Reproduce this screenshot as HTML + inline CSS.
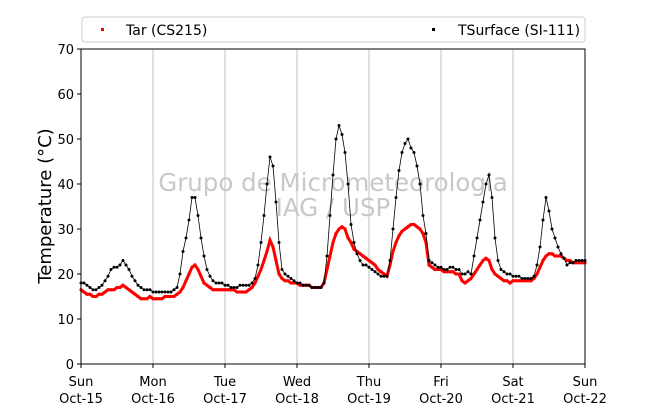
<!DOCTYPE html>
<html><head><meta charset="utf-8"><style>
body{margin:0;background:#fff;width:650px;height:409px;overflow:hidden}
svg text{font-family:"DejaVu Sans","Liberation Sans",sans-serif}
</style></head><body>
<svg id="chart" width="650" height="409" xmlns="http://www.w3.org/2000/svg">
<g id="grid"></g>
<text x="333" y="191" font-size="24.5" fill="#c8c8c8" text-anchor="middle">Grupo de Micrometeorologia</text>
<text x="333" y="216" font-size="24.5" fill="#c8c8c8" text-anchor="middle">IAG / USP</text>
<g id="series"></g>
<rect x="81" y="49" width="504" height="315" fill="none" stroke="#000" stroke-width="1"/>
<g id="axes"></g>
<text transform="translate(51,206) rotate(-90)" font-size="18" text-anchor="middle">Temperature (°C)</text>
<g>
<rect x="82" y="17" width="503" height="25" rx="3" fill="#fff" stroke="#ccc"/>
<g><rect x="101" y="28" width="3" height="3" fill="#f00"/><text x="126" y="35" font-size="14">Tar (CS215)</text></g>
<g><rect x="432" y="28" width="3" height="3" fill="#000"/><text x="458" y="35" font-size="14">TSurface (SI-111)</text></g>
</g>
</svg>
<script>
const dayNames=["Sun","Mon","Tue","Wed","Thu","Fri","Sat","Sun"];
const dateLabels=["Oct-15","Oct-16","Oct-17","Oct-18","Oct-19","Oct-20","Oct-21","Oct-22"];
const yTicks=[0,10,20,30,40,50,60,70];
const tsurface=[18,18,17.5,17,16.5,16.5,17,17.5,18.5,19.5,21,21.5,21.5,22,23,22,21,19.5,18.5,17.5,17,16.5,16.5,16.5,
16,16,16,16,16,16,16,16.5,17,20,25,28,32,37,37,33,28,24,21,19.5,18.5,18,18,18,
17.5,17.5,17,17,17,17.5,17.5,17.5,17.5,18,19,22,27,33,40,46,44,36,27,21,20,19.5,19,18.5,
18,18,17.5,17.5,17.5,17,17,17,17,18,24,33,42,50,53,51,47,40,31,27,24.5,23,22,22,
21.5,21,20.5,20,19.5,19.5,19.5,23,30,37,43,47,49,50,48,47,44,40,33,29,23,22.5,22,21.5,
21.5,21,21,21.5,21.5,21,21,20,20,20.5,20,24,28,32,36,40,42,37,28,23,21,20.5,20,20,
19.5,19.5,19.5,19,19,19,19,19.5,22,26,32,37,34,30,28,26,24.5,23.5,22,22.5,22.5,23,23,23,23];
const tar=[16.5,16,15.5,15.5,15,15,15.5,15.5,16,16.5,16.5,16.5,17,17,17.5,17,16.5,16,15.5,15,14.5,14.5,14.5,15,
14.5,14.5,14.5,14.5,15,15,15,15,15.5,16,17,18.5,20,21.5,22,21,19.5,18,17.5,17,16.5,16.5,16.5,16.5,
16.5,16.5,16.5,16.5,16,16,16,16,16.5,17,18,19.5,21,23,25,27.5,26,23,20,19,18.5,18.5,18,18,
18,17.5,17.5,17.5,17.5,17,17,17,17,18,21,24,27,29,30,30.5,30,28,27,25.5,25,24.5,24,23.5,
23,22.5,22,21,20.5,20,19.5,22,25,27,28.5,29.5,30,30.5,31,31,30.5,30,29,27,22,21.5,21,21,
21,20.5,20.5,20.5,20.5,20,20,18.5,18,18.5,19,20,21,22,23,23.5,23,21,20,19.5,19,18.5,18.5,18,
18.5,18.5,18.5,18.5,18.5,18.5,18.5,19,20,21.5,23,24,24.5,24.5,24,24,24,23.5,23,23,22.5,22.5,22.5,22.5,22.5];
const NS="http://www.w3.org/2000/svg";
const X0=81,X1=585,Y0=364,Y1=49,HOURS=168,TMAX=70;
function xs(h){return X0+(X1-X0)*h/HOURS;}
function ys(t){return Y0-(Y0-Y1)*t/TMAX;}
function mk(tag,attrs,parent){const e=document.createElementNS(NS,tag);for(const k in attrs)e.setAttribute(k,attrs[k]);parent.appendChild(e);return e;}
const grid=document.getElementById('grid'),axes=document.getElementById('axes'),series=document.getElementById('series');
dayNames.forEach((d,i)=>{
 const x=xs(i*24);
 if(i>0&&i<dayNames.length-1){const g=mk('line',{x1:x,x2:x,y1:Y1,y2:Y0,stroke:'#c0c0c0','stroke-width':1},grid);
 
 }
 const t=mk('line',{x1:x,x2:x,y1:Y0,y2:Y0+4,stroke:'#000'},axes);
 
 
 const l=mk('text',{x:x,y:386,'font-size':13,'text-anchor':'middle'},axes);
 
 
 l.textContent=d;
 const l2=mk('text',{x:x,y:403,'font-size':13,'text-anchor':'middle'},axes);
 
 
 l2.textContent=dateLabels[i];
});
yTicks.forEach(v=>{
 const y=ys(v);
 const t=mk('line',{x1:X0-4,x2:X0,y1:y,y2:y,stroke:'#000'},axes);
 
 
 const l=mk('text',{x:X0-7,y:y+5,'font-size':13,'text-anchor':'end'},axes);
 
 
 l.textContent=v;
});
function draw(arr,color,name,w,r){
 const pts=arr.map((v,i)=>xs(i)+','+ys(v)).join(' ');
 const pl=mk('polyline',{points:pts,fill:'none',stroke:color,'stroke-width':w},series);
 
 
 arr.forEach((v,i)=>{
  const c=mk('circle',{cx:xs(i),cy:ys(v),r:r,fill:color},series);
  
  
 });
}
draw(tar,'#f00',"tar",3,1.6);
draw(tsurface,'#000',"tsurface",0.8,1.5);
</script>
</body></html>
